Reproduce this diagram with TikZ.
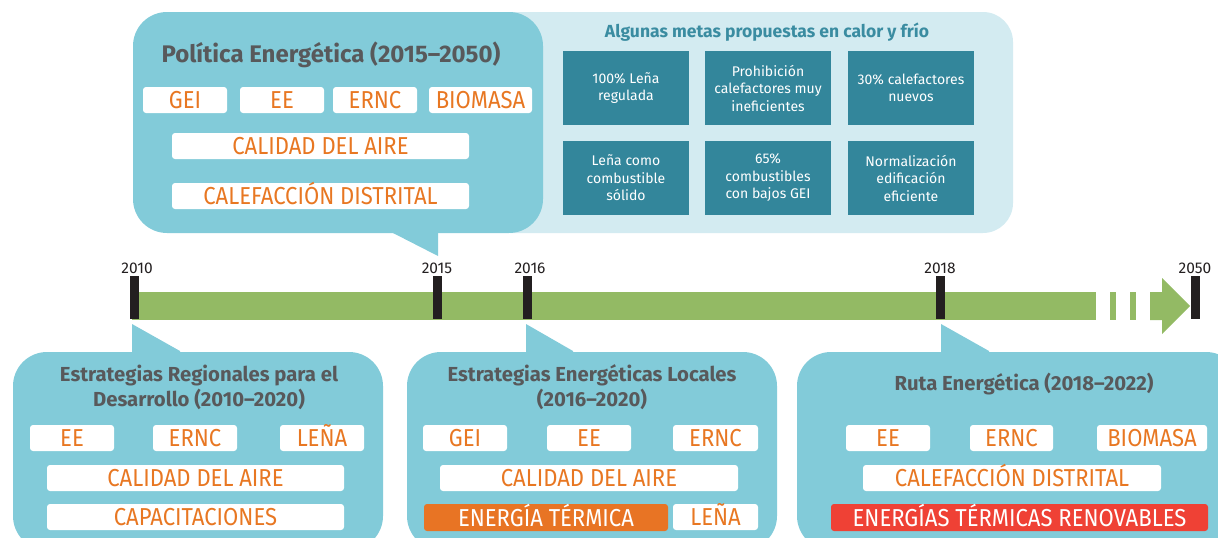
\documentclass[tikz,border=0pt]{standalone}
\usepackage{fontspec}
\setmainfont{Fira Sans}
\definecolor{bubc}{HTML}{82CBD9}
\definecolor{lightc}{HTML}{D3EBF1}
\definecolor{goalc}{HTML}{33869B}
\definecolor{goalt}{HTML}{3A8CA1}
\definecolor{barc}{HTML}{93BA64}
\definecolor{tickc}{HTML}{231F20}
\definecolor{orangetxt}{HTML}{E87722}
\definecolor{orangefill}{HTML}{E87424}
\definecolor{redfill}{HTML}{EF4135}
\definecolor{titlec}{HTML}{58595B}
\newcommand\narrowtxt[1]{\scalebox{0.9}[1]{#1}}
\begin{document}
\begin{tikzpicture}[x=1pt,y=-1pt,
  tag/.style={fill=white, rounded corners=3pt, inner sep=0pt, text=orangetxt,
    font=\fontsize{24.5}{24.5}\selectfont, minimum height=26pt, minimum width=84pt,
    text height=17pt, text depth=0pt},
  filledtag/.style={tag, text=white},
  goal/.style={fill=goalc, text=white, inner sep=0pt, align=center,
    minimum width=126pt, minimum height=74pt, font=\fontsize{14}{17.5}\selectfont},
  bigtitle/.style={text=titlec, font=\bfseries\fontsize{24}{24}\selectfont, anchor=base, inner sep=0pt},
  subtitle/.style={text=titlec, font=\bfseries\fontsize{20.3}{25}\selectfont, anchor=base, inner sep=0pt, align=center},
  goaltitle/.style={text=goalt, font=\bfseries\fontsize{17.5}{17.5}\selectfont, anchor=base, inner sep=0pt},
  tickmark/.style={fill=tickc, inner sep=0pt, minimum width=9pt, minimum height=43pt},
  year/.style={text=tickc, font=\fontsize{15.5}{15.5}\selectfont, inner sep=0pt},
  bubble/.style={fill=bubc, rounded corners=34pt},
]
\useasboundingbox (0,0) rectangle (1218,538);
\clip (0,0) rectangle (1218,538);

% ---------- top bubbles ----------
\fill[lightc, rounded corners=30pt] (480,12) rectangle (1013,233);
\fill[bubble] (133,12) rectangle (543,233);
\fill[bubc] (393,228) -- (438,228) -- (438,256) -- (393,233) -- cycle;
\fill[bubc] (393,228) rectangle (438,233);

\node[bigtitle] (pol) at (331,62) {Política Energética (2015–2050)};
\node[tag] (pGEI) at (185,100) {\narrowtxt{GEI}};
\node[tag] (pEE) at (282,100) {\narrowtxt{EE}};
\node[tag] (pERNC) at (375,100) {\narrowtxt{ERNC}};
\node[tag, minimum width=103pt] (pBIO) at (480.5,100) {\narrowtxt{BIOMASA}};
\node[tag, minimum width=297pt] (pCAL) at (320.5,146) {\narrowtxt{CALIDAD DEL AIRE}};
\node[tag, minimum width=297pt] (pCALEF) at (320.5,196) {\narrowtxt{CALEFACCIÓN DISTRITAL}};

\node[goaltitle] (metas) at (767,37) {Algunas metas propuestas en calor y frío};
\node[goal] (g1) at (626,88) {100\% Leña\\regulada};
\node[goal] (g2) at (768,88) {Prohibición\\calefactores muy\\ineficientes};
\node[goal] (g3) at (911,88) {30\% calefactores\\nuevos};
\node[goal] (g4) at (626,178) {Leña como\\combustible\\sólido};
\node[goal] (g5) at (768,178) {65\%\\combustibles\\con bajos GEI};
\node[goal] (g6) at (911,178) {Normalización\\edificación\\eficiente};

% ---------- timeline ----------
\fill[barc] (132,292) rectangle (1096,320);
\fill[barc] (1110,292) rectangle (1116,320);
\fill[barc] (1130,292) rectangle (1136,320);
\fill[barc] (1150,292) -- (1162,292) -- (1162,278) -- (1190,306) -- (1162,334) -- (1162,320) -- (1150,320) -- cycle;

\node[tickmark] (t2010) at (134.5,297.5) {};
\node[tickmark] (t2015) at (437.5,297.5) {};
\node[tickmark] (t2016) at (527.5,297.5) {};
\node[tickmark] (t2018) at (940.5,297.5) {};
\node[tickmark] (t2050) at (1195.5,297.5) {};
\node[year] (y2010) at (137,268) {2010};
\node[year] (y2015) at (437,268) {2015};
\node[year] (y2016) at (530,268) {2016};
\node[year] (y2018) at (940,268) {2018};
\node[year] (y2050) at (1195,268) {2050};

% ---------- bottom bubbles ----------
\fill[bubble] (13,352) rectangle (383,550);
\fill[bubc] (132,324) -- (180,351) -- (180,356) -- (132,356) -- cycle;
\fill[bubble] (407,352) rectangle (777,550);
\fill[bubc] (526,324) -- (573,351) -- (573,356) -- (526,356) -- cycle;
\fill[bubble] (797,352) rectangle (1240,550);
\fill[bubc] (941,324) -- (989,351) -- (989,356) -- (941,356) -- cycle;

% left
\node[subtitle] (era) at (199,406) {Estrategias Regionales para el\\Desarrollo (2010–2020)};
\node[tag] (lEE) at (72,438) {\narrowtxt{EE}};
\node[tag] (lERNC) at (195,438) {\narrowtxt{ERNC}};
\node[tag] (lLENA) at (322,438) {\narrowtxt{LEÑA}};
\node[tag, minimum width=297pt] (lCAL) at (195.5,478) {\narrowtxt{CALIDAD DEL AIRE}};
\node[tag, minimum width=297pt] (lCAP) at (195.5,517) {\narrowtxt{CAPACITACIONES}};

% middle
\node[subtitle] (esl) at (592,406) {Estrategias Energéticas Locales\\(2016–2020)};
\node[tag] (mGEI) at (465,438) {\narrowtxt{GEI}};
\node[tag] (mEE) at (589,438) {\narrowtxt{EE}};
\node[tag, minimum width=85pt] (mERNC) at (715.5,438) {\narrowtxt{ERNC}};
\node[tag, minimum width=298pt] (mCAL) at (589,478) {\narrowtxt{CALIDAD DEL AIRE}};
\node[filledtag, fill=orangefill, minimum width=244pt, minimum height=27pt] (mTERM) at (546,517.5) {\narrowtxt{ENERGÍA TÉRMICA}};
\node[tag, minimum width=85pt] (mLENA) at (715.5,517) {\narrowtxt{LEÑA}};

% right
\node[subtitle] (ruta) at (1024,390) {Ruta Energética (2018–2022)};
\node[tag] (rEE) at (888,438) {\narrowtxt{EE}};
\node[tag, minimum width=83pt] (rERNC) at (1011.5,438) {\narrowtxt{ERNC}};
\node[tag, minimum width=110pt] (rBIO) at (1152,438) {\narrowtxt{BIOMASA}};
\node[tag, minimum width=298pt] (rCALEF) at (1012,478) {\narrowtxt{CALEFACCIÓN DISTRITAL}};
\node[filledtag, fill=redfill, minimum width=377pt, minimum height=27pt] (rETR) at (1019.5,517.5) {\narrowtxt{ENERGÍAS TÉRMICAS RENOVABLES}};
\end{tikzpicture}
\end{document}
